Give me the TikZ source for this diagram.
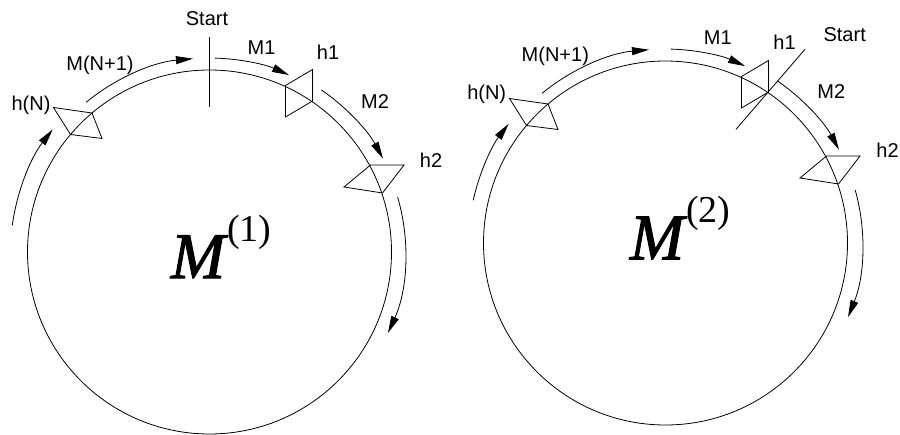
\documentclass[tikz,border=0pt]{standalone}
\usepackage{fontspec}
\setmainfont{Liberation Sans}
\newfontfamily\timesfont{Liberation Serif}
\usetikzlibrary{arrows.meta}

\begin{document}
\begin{tikzpicture}[x=1pt,y=1pt,line width=0.8pt,
  lbl/.style={font=\fontsize{20}{24}\selectfont,inner sep=0pt,anchor=base},
  flow/.style={-{Triangle[length=17pt,width=8pt]}},
  ringname/.style={font=\timesfont\fontsize{65}{70}\selectfont,inner sep=0pt,anchor=base west}]
\useasboundingbox (0,0) rectangle (900,-434);
% first ring, start between h(N) and h1
\begin{scope}[shift={(209.5,-252)}]
\draw (0,0) circle[radius=182];
\draw (0,145) -- (0,215);
\node[lbl] (startA) at (-2.5,227) {Start};
% valves
\draw (76,166.5) -- (103,182.5) -- (103,151) -- (76,135) -- cycle;
\draw (161,87) -- (194.5,87) -- (173,59) -- (134.5,65) -- cycle;
\draw (-139,117.5) -- (-156,144.5) -- (-117.5,139) -- (-107.5,113.5) -- cycle;
% flow arrows
\draw[flow] (129.5:194) arc[start angle=129.5,end angle=94.9,radius=194];
\draw[flow] (88.4:194) arc[start angle=88.4,end angle=65.8,radius=194];
\draw[flow] (55.4:197) arc[start angle=55.4,end angle=28.3,radius=197];
\draw[flow] (16.3:196) arc[start angle=16.3,end angle=-24.4,radius=196];
\draw[flow] (172.3:199) arc[start angle=172.3,end angle=142,radius=199];
% labels
\node[lbl] (mnA) at (-109.5,182) {M(N+1)};
\node[lbl] (m1A) at (52,198) {M1};
\node[lbl] (h1A) at (118.5,193) {h1};
\node[lbl] (m2A) at (165.5,144) {M2};
\node[lbl] (h2A) at (221.5,85) {h2};
\node[lbl] (hnA) at (-178.5,142) {h(N)};
\node[ringname] (ringA) at (-39,-26) {{\itshape\addfontfeature{FakeBold=1.6}M}\kern2pt\raisebox{37pt}{\fontsize{38}{40}\selectfont(1)}};
\end{scope}
% second ring, start just after h1
\begin{scope}[shift={(665.5,-243)}]
\draw (0,0) circle[radius=182];
\draw (70.5,113.7) -- (139.5,193.7);
\node[lbl] (startB) at (179.2,201.3) {Start};
% valves
\draw (76,166.5) -- (103,182.5) -- (103,151) -- (76,135) -- cycle;
\draw (161,87) -- (194.5,87) -- (173,59) -- (134.5,65) -- cycle;
\draw (-139,117.5) -- (-156,144.5) -- (-117.5,139) -- (-107.5,113.5) -- cycle;
% flow arrows
\draw[flow] (129.5:194) arc[start angle=129.5,end angle=94.9,radius=194];
\draw[flow] (88.4:194) arc[start angle=88.4,end angle=65.8,radius=194];
\draw[flow] (55.4:197) arc[start angle=55.4,end angle=28.3,radius=197];
\draw[flow] (15.6:197) arc[start angle=15.6,end angle=-22.1,radius=197];
\draw[flow] (167.5:197) arc[start angle=167.5,end angle=142.8,radius=197];
% labels
\node[lbl] (mnB) at (-110.2,181.3) {M(N+1)};
\node[lbl] (m1B) at (52.3,198.7) {M1};
\node[lbl] (h1B) at (119,193.7) {h1};
\node[lbl] (m2B) at (165.8,144.7) {M2};
\node[lbl] (h2B) at (222,85.7) {h2};
\node[lbl] (hnB) at (-178.8,143.7) {h(N)};
\node[ringname] (ringB) at (-36,-16.3) {{\itshape\addfontfeature{FakeBold=1.6}M}\kern2pt\raisebox{37pt}{\fontsize{38}{40}\selectfont(2)}};
\end{scope}
\end{tikzpicture}
\end{document}
